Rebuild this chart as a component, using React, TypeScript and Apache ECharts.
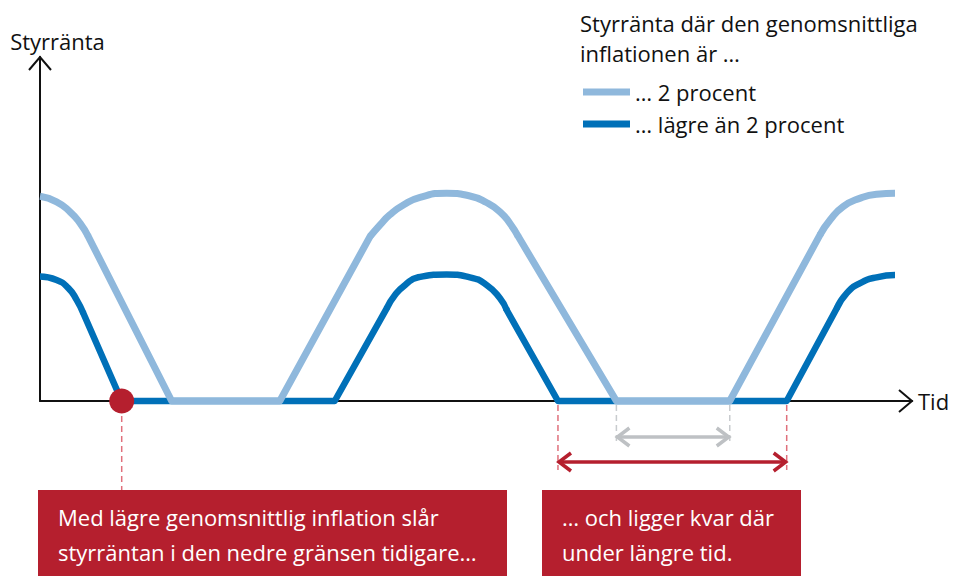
import React, { useEffect, useRef } from "react";
import * as echarts from "echarts";

// Schematic policy-rate paths (x: time 0–100, y: rate level 0–100)
const lightName = "… 2 procent";
const darkName = "… lägre än 2 procent";
const lightX = [0, 1.9, 3.44, 4.59, 5.54, 15.1, 27.5, 37.84, 39.0, 40.1, 41.67, 43.58, 46.64, 49.3, 51.2, 52.75, 53.9, 54.85, 66.1, 79.1, 89.45, 90.6, 92.1, 94.0, 95.95, 98.05];
const lightY = [59.5, 57.9, 55.0, 51.7, 47.8, 0, 0, 47.8, 51.2, 54.1, 57.0, 59.2, 60.4, 59.6, 57.7, 55.0, 51.6, 47.8, 0, 0, 48.3, 52.6, 56.5, 58.9, 60.1, 60.4];
// index ranges [from, to] of the rounded parts of each path
const lightCurved = [[0, 4], [7, 17], [20, 25]];
const darkX = [0, 1.9, 3.25, 4.2, 4.97, 9.37, 33.8, 39.76, 40.71, 41.86, 43.38, 46.64, 49.3, 51.23, 52.75, 53.52, 59.4, 85.63, 91.36, 92.5, 94.0, 95.95, 98.05];
const darkY = [36.2, 35.2, 32.8, 29.4, 25.5, 0, 0, 26.95, 30.8, 33.7, 35.96, 36.8, 35.96, 33.7, 29.85, 26.45, 0, 0, 26.9, 31.3, 34.2, 35.96, 36.6];
const darkCurved = [[0, 4], [7, 15], [18, 22]];

// Lower-bound periods: [start, end] on the time axis
const darkFloorSpan = [59.4, 85.63];
const lightFloorSpan = [66.1, 79.1];
const dotPoint = [9.37, 0];

const legendTitle = "Styrränta där den genomsnittliga\ninflationen är …";
const yName = "Styrränta";
const xName = "Tid";
const box1Text = "Med lägre genomsnittlig inflation slår\nstyrräntan i den nedre gränsen tidigare…";
const box2Text = "… och ligger kvar där\nunder längre tid.";

const LIGHT = "#8FB8DC";
const DARK = "#0070B8";
const RED = "#B51F2E";
const FONT = "'Open Sans', Lato, sans-serif";
const FS = 22;

// split a path into its straight pieces and its rounded pieces (breaks marked with '-')
function pieces(xs: number[], ys: number[], curved: number[][], wantCurved: boolean) {
  const isCurved = (i: number) => curved.some(([a, b]) => i >= a && i < b);
  const out: any[] = [];
  let open = false;
  for (let i = 0; i < xs.length - 1; i++) {
    if (isCurved(i) === wantCurved) {
      if (!open) {
        if (out.length) out.push([xs[i], "-"]);
        out.push([xs[i], ys[i]]);
        open = true;
      }
      out.push([xs[i + 1], ys[i + 1]]);
    } else open = false;
  }
  return out;
}

export default function App() {
  const ref = useRef<HTMLDivElement>(null);
  useEffect(() => {
    if (!ref.current) return;
    const chart = echarts.init(ref.current, null, { renderer: "svg" });
    const lineSeries = (name: string, xs: number[], ys: number[], curved: number[][], color: string, width: number, z: number) => [
      {
        name,
        type: "line",
        data: pieces(xs, ys, curved, false),
        symbol: "none",
        clip: false,
        color,
        lineStyle: { color, width, join: "round", cap: "round" },
        z,
      },
      {
        name,
        type: "line",
        data: pieces(xs, ys, curved, true),
        smooth: 0.55,
        symbol: "none",
        clip: false,
        color,
        lineStyle: { color, width, join: "round", cap: "butt" },
        z,
      },
    ];
    chart.setOption({
      animation: false,
      backgroundColor: "#ffffff",
      textStyle: { fontFamily: FONT },
      title: {
        text: legendTitle,
        left: 580,
        top: 8,
        padding: 0,
        textStyle: { fontFamily: FONT, fontSize: FS, fontWeight: "normal", color: "#111", lineHeight: 30 },
      },
      legend: {
        orient: "vertical",
        left: 583,
        top: 80,
        padding: 0,
        icon: "rect",
        itemWidth: 47,
        itemHeight: 7,
        itemGap: 8,
        data: [lightName, darkName],
        textStyle: { fontFamily: FONT, fontSize: FS, color: "#111", lineHeight: 24 },
      },
      grid: { left: 40, right: 42, top: 57, bottom: 175 },
      xAxis: {
        type: "value",
        min: 0,
        max: 100,
        name: xName,
        nameLocation: "end",
        nameGap: 6,
        nameTextStyle: { fontFamily: FONT, fontSize: FS, color: "#111" },
        axisLine: { show: true, lineStyle: { color: "#111", width: 2 } },
        axisTick: { show: false },
        axisLabel: { show: false },
        splitLine: { show: false },
      },
      yAxis: {
        type: "value",
        min: 0,
        max: 100,
        name: yName,
        nameLocation: "end",
        nameGap: 5,
        nameTextStyle: { fontFamily: FONT, fontSize: FS, color: "#111", padding: [0, 0, 0, 35] },
        axisLine: { show: true, lineStyle: { color: "#111", width: 2 } },
        axisTick: { show: false },
        axisLabel: { show: false },
        splitLine: { show: false },
      },
      series: [
        ...lineSeries(darkName, darkX, darkY, darkCurved, DARK, 6.5, 3),
        ...lineSeries(lightName, lightX, lightY, lightCurved, LIGHT, 7, 4),
        {
          name: "dot",
          type: "scatter",
          data: [dotPoint],
          symbolSize: 25,
          itemStyle: { color: RED, opacity: 1 },
          z: 6,
        },
      ],
    });

    const px = (x: number, y: number) => chart.convertToPixel({ gridIndex: 0 }, [x, y]) as number[];
    const origin = px(0, 0);
    const yTop = px(0, 100);
    const xEnd = px(100, 0);
    const base = origin[1];
    const dot = px(dotPoint[0], dotPoint[1]);
    const r1 = px(darkFloorSpan[0], 0)[0];
    const r2 = px(darkFloorSpan[1], 0)[0];
    const g1 = px(lightFloorSpan[0], 0)[0];
    const g2 = px(lightFloorSpan[1], 0)[0];
    const redY = base + 61;
    const grayY = base + 36;
    const boxTop = base + 89;

    const dashed = (x: number, y1: number, y2: number, color: string) => ({
      type: "line",
      shape: { x1: x, y1, x2: x, y2 },
      style: { stroke: color, lineWidth: 1.5, lineDash: [6, 4] },
      z: 1,
    });
    const chevron = (pts: number[][], color: string, w: number) => ({
      type: "polyline",
      shape: { points: pts },
      style: { stroke: color, lineWidth: w, fill: null, lineJoin: "miter" },
      z: 5,
    });
    const dblArrow = (x1: number, x2: number, y: number, color: string, w: number) => [
      { type: "line", shape: { x1: x1 + 1, y1: y, x2: x2 - 1, y2: y }, style: { stroke: color, lineWidth: w }, z: 5 },
      chevron([[x1 + 13, y - 9], [x1 + 1, y], [x1 + 13, y + 9]], color, w),
      chevron([[x2 - 13, y - 9], [x2 - 1, y], [x2 - 13, y + 9]], color, w),
    ];

    chart.setOption({
      graphic: [
        chevron([[yTop[0] - 11, yTop[1] + 13], [yTop[0], yTop[1]], [yTop[0] + 11, yTop[1] + 13]], "#111", 2),
        chevron([[xEnd[0] - 13, xEnd[1] - 11], [xEnd[0], xEnd[1]], [xEnd[0] - 13, xEnd[1] + 11]], "#111", 2),
        dashed(dot[0], base + 15, boxTop, "#E0707C"),
        dashed(r1, base + 4, redY + 8, "#E0707C"),
        dashed(r2, base + 4, redY + 8, "#E0707C"),
        dashed(g1, base + 4, grayY + 4, "#C8CBCE"),
        dashed(g2, base + 4, grayY + 4, "#C8CBCE"),
        ...dblArrow(g1, g2, grayY, "#BEC1C4", 3.5),
        ...dblArrow(r1, r2, redY, RED, 3.5),
        {
          type: "rect",
          shape: { x: 38, y: boxTop, width: 469, height: 100 },
          style: { fill: RED },
          z: 5,
        },
        {
          type: "text",
          x: 58,
          y: boxTop + 9,
          style: { text: box1Text, fill: "#fff", font: `${FS}px ${FONT}`, lineHeight: 35 },
          z: 6,
        },
        {
          type: "rect",
          shape: { x: 542, y: boxTop, width: 259, height: 100 },
          style: { fill: RED },
          z: 5,
        },
        {
          type: "text",
          x: 562,
          y: boxTop + 9,
          style: { text: box2Text, fill: "#fff", font: `${FS}px ${FONT}`, lineHeight: 35 },
          z: 6,
        },
      ],
    });
    return () => chart.dispose();
  }, []);
  return <div ref={ref} style={{ position: "fixed", left: 0, top: 0, width: 954, height: 576 }} />;
}
